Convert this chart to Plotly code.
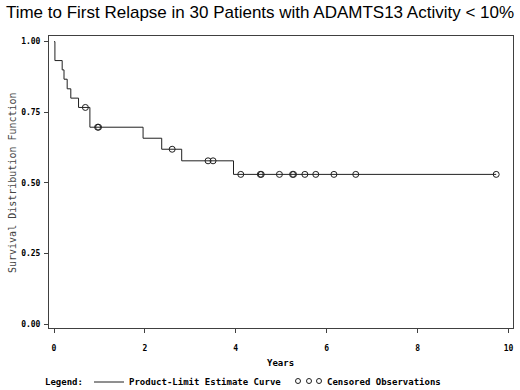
import plotly.graph_objects as go

# Kaplan-Meier step curve
step_times = [0.0, 0.02, 0.18, 0.22, 0.29, 0.37, 0.54, 0.79, 1.96, 2.37, 2.81, 3.95, 9.73]
step_surv = [1.0, 0.933, 0.900, 0.867, 0.833, 0.800, 0.767, 0.697, 0.658, 0.619, 0.578, 0.530, 0.530]

# Censored observations
censor_times = [0.69, 0.96, 0.98, 2.60, 3.39, 3.50, 4.11, 4.54, 4.56, 4.96, 5.25, 5.27, 5.52, 5.76, 6.16, 6.64, 9.73]
censor_surv = [0.767, 0.697, 0.697, 0.619, 0.578, 0.578, 0.530, 0.530, 0.530, 0.530, 0.530, 0.530, 0.530, 0.530, 0.530, 0.530, 0.530]

x_ticks = [0, 2, 4, 6, 8, 10]
y_ticks = [0.0, 0.25, 0.5, 0.75, 1.0]
y_tick_labels = ["0.00", "0.25", "0.50", "0.75", "1.00"]

title_text = "Time to First Relapse in 30 Patients with ADAMTS13 Activity < 10%"

fig = go.Figure()
fig.add_trace(go.Scatter(
    x=step_times, y=step_surv, mode="lines",
    line=dict(shape="hv", color="#202020", width=1),
    hoverinfo="skip", showlegend=False,
))
fig.add_trace(go.Scatter(
    x=censor_times, y=censor_surv, mode="markers",
    marker=dict(symbol="circle-open", size=6, color="#202020", line=dict(width=1)),
    showlegend=False,
))

mono = "DejaVu Sans Mono"
axis_common = dict(
    showgrid=False, zeroline=False, showline=True, linecolor="#404040", linewidth=1,
    mirror=True, ticks="outside", ticklen=4, tickcolor="#404040",
    tickfont=dict(family=mono, size=8, color="black", weight="bold"),
)
fig.update_layout(
    width=520, height=390,
    margin=dict(l=49, r=7, t=36, b=62, autoexpand=False),
    paper_bgcolor="white", plot_bgcolor="white",
    title=dict(text=title_text, x=260 / 520, xanchor="center", xref="container",
               y=1 - 12 / 390, yanchor="middle", yref="container",
               font=dict(family="Liberation Sans", size=17, color="black")),
    xaxis=dict(range=[-0.11, 10.10], tickvals=x_ticks, ticktext=[str(v) for v in x_ticks],
               ticklabelstandoff=8, **axis_common),
    yaxis=dict(range=[-0.014, 1.020], tickvals=y_ticks, ticktext=y_tick_labels,
               ticklabelstandoff=2, **axis_common),
)

def px_x(p):
    return (p - 49) / 464

def px_y(p):
    return (328 - p) / 292

legend_font = dict(family=mono, size=9, color="black", weight="bold")
annotations = [
    dict(text="Years", x=px_x(280), y=px_y(363), xanchor="center", yanchor="middle",
         font=legend_font),
    dict(text="Survival Distribution Function", x=px_x(12), y=px_y(183), textangle=-90,
         xanchor="center", yanchor="middle",
         font=dict(family=mono, size=10, color="#444444")),
    dict(text="Legend:", x=px_x(43), y=px_y(382), xanchor="left", yanchor="middle",
         font=legend_font),
    dict(text="Product-Limit Estimate Curve", x=px_x(127), y=px_y(382), xanchor="left",
         yanchor="middle", font=legend_font),
    dict(text="Censored Observations", x=px_x(325), y=px_y(382), xanchor="left",
         yanchor="middle", font=legend_font),
]
for a in annotations:
    a.update(xref="paper", yref="paper", showarrow=False)
fig.update_layout(annotations=annotations)

shapes = [dict(type="line", xref="paper", yref="paper", x0=px_x(94), x1=px_x(124),
               y0=px_y(382), y1=px_y(382), line=dict(color="#202020", width=1))]
for cx in [298, 309, 319]:
    shapes.append(dict(type="circle", xref="paper", yref="paper", xsizemode="pixel",
                       ysizemode="pixel", xanchor=px_x(cx), yanchor=px_y(381),
                       x0=-2.5, x1=2.5, y0=-2.5, y1=2.5,
                       line=dict(color="#202020", width=1)))
fig.update_layout(shapes=shapes)

fig.write_html("out.html", config={"displayModeBar": False},
               post_script="document.body.style.margin='0';")
